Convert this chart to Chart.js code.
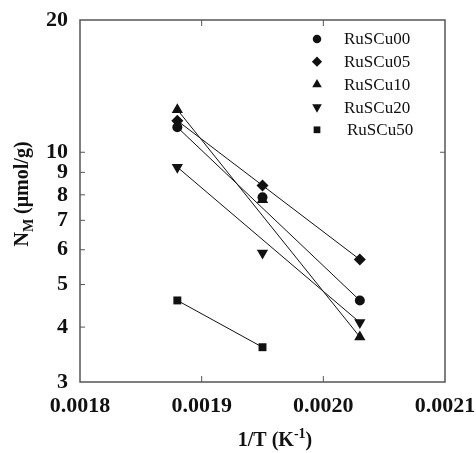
<!DOCTYPE html>
<html lang="en">
<head>
<meta charset="UTF-8">
<title>NM vs 1/T</title>
<style>
  body { margin: 0; background: #fff; }
  #chart { display: block; }
</style>
</head>
<body>
<canvas id="chart" width="476" height="453"></canvas>

<script src="https://cdn.jsdelivr.net/npm/chart.js"></script>
<script>
  // 1/T (K^-1) of the three measurement temperatures
  const invT = [0.00188, 0.00195, 0.00203];

  // N_M (umol/g) for each sample, null where there is no point
  const ruscu00 = [11.4, 7.9, 4.6];
  const ruscu05 = [11.8, 8.4, 5.7];
  const ruscu10 = [12.5, 7.8, 3.8];
  const ruscu20 = [9.25, 5.9, 4.1];
  const ruscu50 = [4.6, 3.6, null];

  const seriesNames = ['RuSCu00', 'RuSCu05', 'RuSCu10', 'RuSCu20', 'RuSCu50'];
  const seriesValues = [ruscu00, ruscu05, ruscu10, ruscu20, ruscu50];

  const xTicks = [0.0018, 0.0019, 0.0020, 0.0021];
  const yTicks = [3, 4, 5, 6, 7, 8, 9, 10, 20];

  // marker look per sample
  const markerStyles = ['circle', 'rectRot', 'triangle', 'triangle', 'rect'];
  const markerRotation = [0, 0, 0, 180, 0];
  const markerRadius = [5, 6, 6.5, 6.5, 5.6];

  const serif = '"Liberation Serif", "Times New Roman", serif';
  const ink = '#111';

  function toPoints(values) {
    const pts = [];
    values.forEach((v, i) => { if (v !== null) pts.push({ x: invT[i], y: v }); });
    return pts;
  }

  // scatter markers
  const markerSets = seriesValues.map((vals, i) => ({
    label: seriesNames[i],
    data: toPoints(vals),
    showLine: false,
    pointStyle: markerStyles[i],
    rotation: markerRotation[i],
    pointRadius: markerRadius[i],
    pointBackgroundColor: ink,
    pointBorderColor: ink,
    pointBorderWidth: 0
  }));

  // straight fit line from the first to the last point of each sample
  const lineSets = seriesValues.map((vals) => {
    const pts = toPoints(vals);
    return {
      data: [pts[0], pts[pts.length - 1]],
      showLine: true,
      pointRadius: 0,
      borderColor: ink,
      borderWidth: 1
    };
  });

  function drawTitles(ctx, chart) {
    ctx.save();
    ctx.fillStyle = ink;
    ctx.textBaseline = 'alphabetic';

    // x title: 1/T (K^-1)
    const big = 'bold 20px ' + serif;
    const small = 'bold 14px ' + serif;
    ctx.font = big;
    const a = '1/T (K', c = ')';
    const wa = ctx.measureText(a).width, wc = ctx.measureText(c).width;
    ctx.font = small;
    const b = '-1';
    const wb = ctx.measureText(b).width;
    let x = 275 - (wa + wb + wc) / 2;
    const base = 446;
    ctx.font = big; ctx.fillText(a, x, base); x += wa;
    ctx.font = small; ctx.fillText(b, x, base - 8); x += wb;
    ctx.font = big; ctx.fillText(c, x, base);

    // y title: N_M (umol/g), rotated
    ctx.translate(28, 194);
    ctx.rotate(-Math.PI / 2);
    ctx.font = big;
    const n = 'N', rest = ' (\u03bcmol/g)';
    const wn = ctx.measureText(n).width, wr = ctx.measureText(rest).width;
    ctx.font = small;
    const m = 'M';
    const wm = ctx.measureText(m).width;
    let p = -(wn + wm + wr) / 2;
    ctx.font = big; ctx.fillText(n, p, 0); p += wn;
    ctx.font = small; ctx.fillText(m, p, 5); p += wm;
    ctx.font = big; ctx.fillText(rest, p, 0);
    ctx.restore();
  }

  const frameAndLegend = {
    id: 'frameAndLegend',
    afterDraw(chart) {
      const ctx = chart.ctx;
      const area = chart.chartArea;
      const xs = chart.scales.x, ys = chart.scales.y;

      ctx.save();
      // frame
      ctx.strokeStyle = '#555';
      ctx.lineWidth = 1.5;
      ctx.strokeRect(area.left, area.top, area.right - area.left, area.bottom - area.top);

      // inward tick marks
      ctx.lineWidth = 1;
      ctx.beginPath();
      yTicks.slice(1, -1).forEach(v => {
        const y = ys.getPixelForValue(v);
        ctx.moveTo(area.left, y); ctx.lineTo(area.left + 5, y);
      });
      const y10 = ys.getPixelForValue(10);
      ctx.moveTo(area.right, y10); ctx.lineTo(area.right - 5, y10);
      xTicks.slice(1, -1).forEach(v => {
        const x = xs.getPixelForValue(v);
        ctx.moveTo(x, area.bottom); ctx.lineTo(x, area.bottom - 6);
        ctx.moveTo(x, area.top); ctx.lineTo(x, area.top + 6);
      });
      ctx.stroke();

      // legend in the upper right of the plot
      ctx.fillStyle = ink;
      ctx.strokeStyle = ink;
      ctx.font = '17px ' + serif;
      ctx.textBaseline = 'middle';
      seriesNames.forEach((name, i) => {
        const rowY = 39 + i * 22.7;
        Chart.helpers.drawPoint(ctx, {
          pointStyle: markerStyles[i],
          rotation: markerRotation[i],
          radius: markerRadius[i] * 0.85,
          borderWidth: 0
        }, 317, rowY);
        ctx.fillText(name, i === 4 ? 347 : 344, rowY + 1);
      });
      ctx.restore();

      drawTitles(ctx, chart);
    }
  };

  new Chart(document.getElementById('chart'), {
    type: 'scatter',
    data: { datasets: markerSets.concat(lineSets) },
    options: {
      responsive: false,
      animation: false,
      layout: { padding: { top: 20, right: 31, bottom: 0, left: 0 } },
      plugins: {
        legend: { display: false },
        tooltip: { enabled: false }
      },
      scales: {
        x: {
          type: 'linear',
          min: xTicks[0],
          max: xTicks[xTicks.length - 1],
          afterBuildTicks: s => { s.ticks = xTicks.map(v => ({ value: v })); },
          afterFit: s => { s.height = 71; s.paddingLeft = 0; s.paddingRight = 0; },
          grid: { display: false, drawTicks: false },
          border: { display: false },
          ticks: {
            padding: 11,
            color: ink,
            maxRotation: 0,
            font: { family: serif, size: 22, weight: 'bold' },
            callback: v => Number(v).toFixed(4)
          }
        },
        y: {
          type: 'logarithmic',
          min: yTicks[0],
          max: yTicks[yTicks.length - 1],
          afterBuildTicks: s => { s.ticks = yTicks.map(v => ({ value: v })); },
          afterFit: s => { s.width = 80; s.paddingTop = 0; s.paddingBottom = 0; },
          grid: { display: false, drawTicks: false },
          border: { display: false },
          ticks: {
            padding: 12,
            color: ink,
            font: { family: serif, size: 22, weight: 'bold' },
            callback: v => String(v)
          }
        }
      }
    },
    plugins: [frameAndLegend]
  });
</script>
</body>
</html>
